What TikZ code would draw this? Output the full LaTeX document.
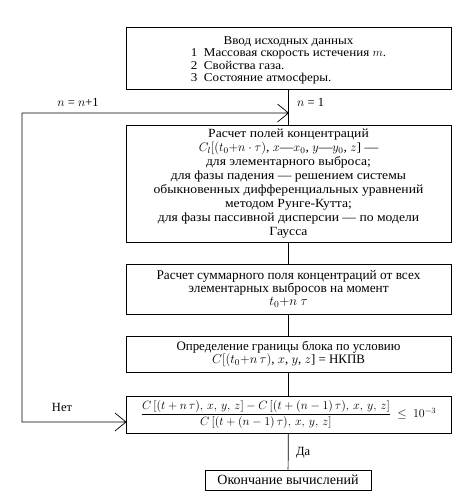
\RequirePackage{fix-cm}
\documentclass[tikz,border=0pt]{standalone}
\usepackage{amsmath}
\usepackage{fontspec}
\setmainfont{Liberation Serif}
\newfontfamily\widefont[FakeStretch=1.09]{Liberation Serif}
\begin{document}
\begin{tikzpicture}[x=1pt,y=-1pt,
  box/.style={draw,line width=0.7pt,minimum width=325pt,inner sep=0pt,align=center},
  lab/.style={inner sep=0pt},
  conn/.style={line width=0.7pt,line join=miter}]
\useasboundingbox (0,0) rectangle (474,499);
\node[box,minimum height=62pt,font=\widefont\fontsize{12}{12.5}\selectfont] (b1) at (288.5,58)
  {\rule{0pt}{14pt}Ввод исходных данных\\
   \begin{tabular}{@{}l@{}}1~~Массовая скорость истечения $m$.\\
   2~~Свойства газа.\\
   3~~Состояние атмосферы.\end{tabular}};
\node[box,minimum height=117pt,font=\widefont\fontsize{12.5}{14}\selectfont] (b2) at (288.5,183.5)
  {Расчет полей концентраций\\
   $C_l[(t_0{+}n\cdot\tau)$, $x$—$x_0$, $y$—$y_0$, $z$] —\\
   для элементарного выброса;\\
   для фазы падения — решением системы\\
   обыкновенных дифференциальных уравнений\\
   методом Рунге-Кутта;\\
   для фазы пассивной дисперсии — по модели\\
   Гаусса};
\node[box,minimum height=50pt,font=\fontsize{13.3}{13}\selectfont] (b3) at (288.5,289)
  {Расчет суммарного поля концентраций от всех\\
   элементарных выбросов на момент\\
   $t_0{+}n\ \tau$};
\node[box,minimum height=36pt,font=\fontsize{12.9}{13.5}\selectfont] (b4) at (288.5,354)
  {Определение границы блока по условию\\
   $C[(t_0{+}n\,\tau)$, $x$, $y$, $z$] = НКПВ};
\node[box,minimum height=37pt,font=\fontsize{12}{12}\selectfont] (dec) at (288.5,414.5)
  {$\dfrac{C\,[(t+n\,\tau),\,x,\,y,\,z]-C\,[(t+(n-1)\,\tau),\,x,\,y,\,z]}{C\,[(t+(n-1)\,\tau),\,x,\,y,\,z]}\ \le\ 10^{-3}$};
\node[box,minimum width=166pt,minimum height=20pt,font=\fontsize{14}{14}\selectfont] (fin) at (288,480)
  {Окончание вычислений};
\coordinate (j) at (288.5,113);
\coordinate (lt) at (22,113);
\coordinate (lb) at (22,422);
\coordinate (din) at (126,422);
\draw[conn] (b1) -- (b2);
\draw[conn] (b2) -- (b3);
\draw[conn] (b3) -- (b4);
\draw[conn] (b4) -- (dec);
\draw[conn] (dec) -- (fin);
\draw[conn] (lt) -- (j) ++(-11,-9) -- (j) -- ++(-11,9);
\draw[conn] (lt) -- (lb) -- (din) ++(-11,-9) -- (din) -- ++(-11,9);
\node[lab,font=\fontsize{12.5}{12}\selectfont] (l1) at (78,102) {$n$ = $n$+1};
\node[lab,font=\fontsize{12.5}{12}\selectfont,anchor=west] (l2) at (297,102) {$n$ = 1};
\node[lab,font=\fontsize{12.5}{12}\selectfont] (l3) at (62,407) {Нет};
\node[lab,font=\fontsize{12.5}{12}\selectfont,anchor=west] (l4) at (296,453) {Да};
\end{tikzpicture}
\end{document}
